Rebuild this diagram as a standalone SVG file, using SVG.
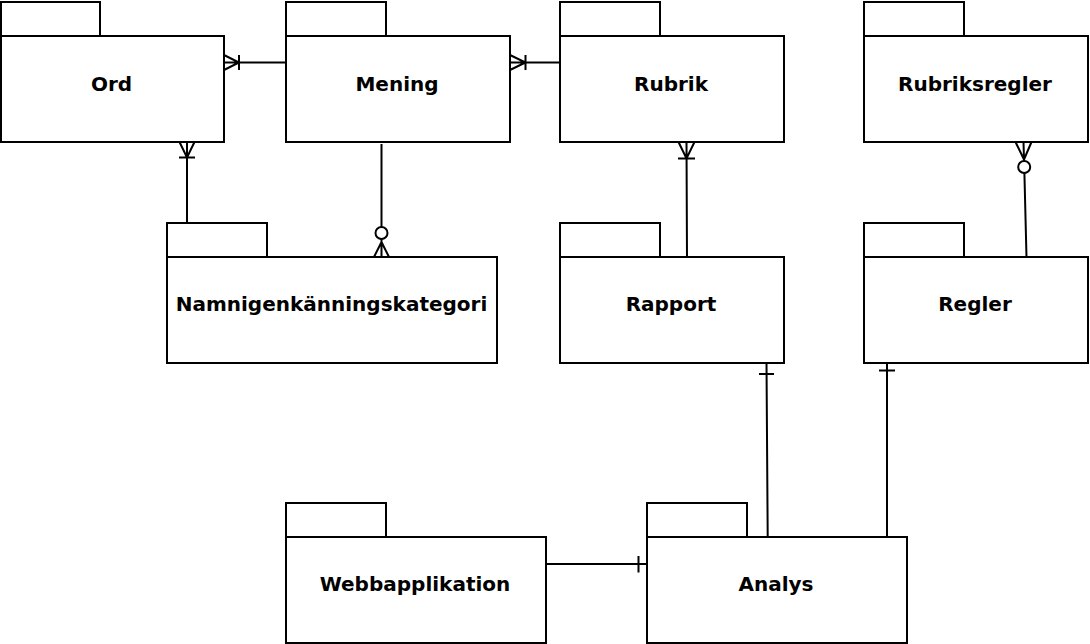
<svg xmlns="http://www.w3.org/2000/svg" width="1090" height="644" viewBox="0 0 1090 644">
<style>
.pk{fill:#fff;stroke:#000;stroke-width:2}
.lb{font-family:"DejaVu Sans",sans-serif;font-weight:bold;font-size:20px;fill:#000;text-anchor:middle}
.ln{fill:none;stroke:#000;stroke-width:2}
.ci{fill:#fff;stroke:#000;stroke-width:2}
</style>
<rect width="1090" height="644" fill="#fff"/>
<g id="connectors">
  <!-- Mening -> Ord -->
  <path class="ln" d="M286,62.5 H224 M224,55 L239,62.5 L224,70 M239,55 V70"/>
  <!-- Rubrik -> Mening -->
  <path class="ln" d="M560,62.5 H510 M510,55 L525.5,62.5 L510,70 M525.5,55 V70"/>
  <!-- Namnigenkanningskategori -> Ord -->
  <path class="ln" d="M187,223 V142 M179.5,142 L187,157.5 L194.5,142 M179,157.5 H195"/>
  <!-- Mening -> Namnigenkanningskategori -->
  <path class="ln" d="M381.5,144 V227 M374,257 L381.5,242 L389,257 M381.5,239 V257"/>
  <circle class="ci" cx="381.5" cy="233" r="6"/>
  <!-- Rapport -> Rubrik -->
  <path class="ln" d="M687,258 L686.5,142 M678.5,142 L686.5,158.5 L694.5,142 M678,158.5 H695"/>
  <!-- Regler -> Rubriksregler -->
  <path class="ln" d="M1026.5,257 L1024.4,173 M1015.5,142 L1024,159.5 L1031.5,142 M1024,159.5 L1023.5,142"/>
  <circle class="ci" cx="1024.2" cy="167" r="6"/>
  <!-- Analys -> Rapport -->
  <path class="ln" d="M767.7,537 L766.5,363 M759,374 H774"/>
  <!-- Analys -> Regler -->
  <path class="ln" d="M887,537 V363 M879,370.5 H895"/>
  <!-- Webbapplikation -> Analys -->
  <path class="ln" d="M546,564 H647 M638.5,556 V572.5"/>
</g>
<g id="ord">
  <rect class="pk" x="1" y="2" width="99" height="34"/>
  <rect class="pk" x="1" y="36" width="223" height="106"/>
  <text class="lb" x="111.5" y="90.7">Ord</text>
</g>
<g id="mening">
  <rect class="pk" x="286" y="2" width="100" height="34"/>
  <rect class="pk" x="286" y="36" width="224" height="106"/>
  <text class="lb" x="397" y="90.7">Mening</text>
</g>
<g id="rubrik">
  <rect class="pk" x="560" y="2" width="100" height="34"/>
  <rect class="pk" x="560" y="36" width="224" height="106"/>
  <text class="lb" x="671" y="90.7">Rubrik</text>
</g>
<g id="rubriksregler">
  <rect class="pk" x="864" y="2" width="100" height="34"/>
  <rect class="pk" x="864" y="36" width="224" height="106"/>
  <text class="lb" x="975" y="90.7">Rubriksregler</text>
</g>
<g id="namnigenkanningskategori">
  <rect class="pk" x="167" y="223" width="100" height="34"/>
  <rect class="pk" x="167" y="257" width="330" height="106"/>
  <text class="lb" x="331.5" y="310.7">Namnigenkänningskategori</text>
</g>
<g id="rapport">
  <rect class="pk" x="560" y="223" width="100" height="34"/>
  <rect class="pk" x="560" y="257" width="224" height="106"/>
  <text class="lb" x="671" y="310.7">Rapport</text>
</g>
<g id="regler">
  <rect class="pk" x="864" y="223" width="100" height="34"/>
  <rect class="pk" x="864" y="257" width="224" height="106"/>
  <text class="lb" x="975" y="310.7">Regler</text>
</g>
<g id="webbapplikation">
  <rect class="pk" x="286" y="503" width="100" height="34"/>
  <rect class="pk" x="286" y="537" width="260" height="106"/>
  <text class="lb" x="415" y="590.7">Webbapplikation</text>
</g>
<g id="analys">
  <rect class="pk" x="647" y="503" width="100" height="34"/>
  <rect class="pk" x="647" y="537" width="260" height="106"/>
  <text class="lb" x="776" y="590.7">Analys</text>
</g>
</svg>
